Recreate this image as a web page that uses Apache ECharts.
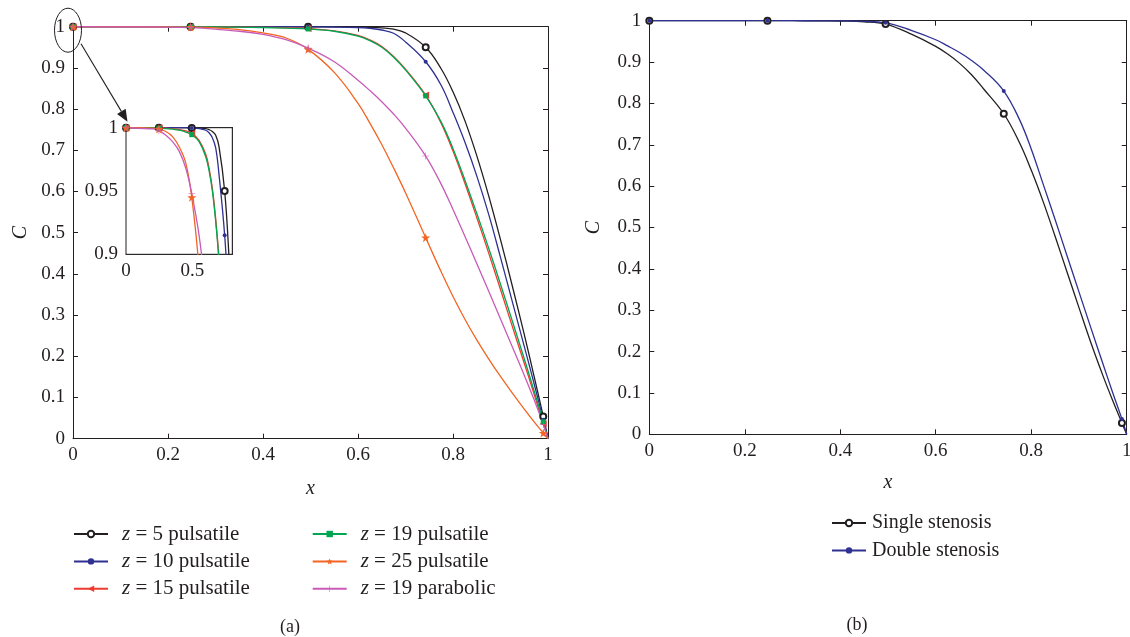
<!DOCTYPE html>
<html><head><meta charset="utf-8">
<script src="https://cdn.jsdelivr.net/npm/echarts/dist/echarts.min.js"></script>
<style>html,body{margin:0;padding:0;background:#fff}#c{width:1130px;height:637px}</style>
</head><body><div id="c"></div>
<script>
// ---- data ----
const xs      = [0, 0.1, 0.2, 0.2475, 0.3, 0.35, 0.4, 0.45, 0.495, 0.55, 0.6, 0.625, 0.65, 0.675, 0.7, 0.7425, 0.775, 0.8, 0.825, 0.85, 0.875, 0.9, 0.925, 0.95, 0.97, 0.99, 1];
const markIdx = [0, 3, 8, 15, 25];
// panel (a)
const z5      = [1, 1, 1, 1, 1, 1, 1, 1, 0.9998, 0.9997, 0.9993, 0.9985, 0.997, 0.994, 0.985, 0.950, 0.898, 0.842, 0.772, 0.687, 0.590, 0.483, 0.370, 0.253, 0.155, 0.054, 0];
const z10     = [1, 1, 1, 1, 1, 1, 1, 1, 0.9997, 0.9993, 0.998, 0.996, 0.992, 0.984, 0.963, 0.915, 0.858, 0.792, 0.720, 0.638, 0.545, 0.440, 0.332, 0.224, 0.137, 0.046, 0];
const z15     = [1, 1, 1, 1, 0.9996, 0.9992, 0.9985, 0.9975, 0.9955, 0.990, 0.979, 0.968, 0.952, 0.928, 0.897, 0.834, 0.766, 0.698, 0.620, 0.537, 0.451, 0.362, 0.272, 0.183, 0.111, 0.036, 0];
const z19p    = [1, 1, 1, 0.9996, 0.9993, 0.9988, 0.998, 0.9965, 0.9945, 0.989, 0.977, 0.966, 0.950, 0.926, 0.895, 0.832, 0.769, 0.704, 0.628, 0.547, 0.463, 0.375, 0.285, 0.194, 0.119, 0.041, 0];
const z25     = [1, 1, 0.9997, 0.999, 0.997, 0.993, 0.985, 0.972, 0.945, 0.889, 0.814, 0.766, 0.714, 0.657, 0.597, 0.488, 0.405, 0.345, 0.290, 0.240, 0.194, 0.151, 0.1105, 0.0718, 0.0422, 0.0138, 0];
const z19par  = [1, 0.9995, 0.999, 0.9977, 0.994, 0.989, 0.9815, 0.968, 0.948, 0.915, 0.870, 0.845, 0.818, 0.788, 0.754, 0.686, 0.618, 0.5565, 0.4915, 0.4253, 0.3583, 0.2908, 0.2228, 0.154, 0.097, 0.035, 0];
// panel (b)
const single  = [1, 1, 1, 1, 1, 0.9997, 0.999, 0.9975, 0.9918, 0.967, 0.938, 0.9193, 0.8968, 0.8693, 0.8355, 0.775, 0.706, 0.6388, 0.5625, 0.4788, 0.3925, 0.3063, 0.2213, 0.1425, 0.0835, 0.0275, 0];
const double_ = [1, 1, 1, 1, 1, 0.9998, 0.9995, 0.9985, 0.995, 0.976, 0.954, 0.939, 0.923, 0.904, 0.881, 0.830, 0.762, 0.690, 0.6048, 0.5193, 0.4318, 0.3443, 0.2573, 0.171, 0.103, 0.037, 0];
// tick settings
const mainXTicks  = {min: 0, max: 1, interval: 0.2};
const mainYTicks  = {min: 0, max: 1, interval: 0.1};
const insetXTicks = {min: 0, max: 0.8, interval: 0.5};
const insetYTicks = {min: 0.9, max: 1, interval: 0.05};
const namesA1 = ['z = 5 pulsatile', 'z = 10 pulsatile', 'z = 15 pulsatile'];
const namesA2 = ['z = 19 pulsatile', 'z = 25 pulsatile', 'z = 19 parabolic'];
const namesB  = ['Single stenosis', 'Double stenosis'];

// ---- styling ----
const INK = '#231f20';
const FONT = '"Liberation Serif", "DejaVu Serif", serif';
const STAR = 'path://M0,-10 L2.35,-3.24 9.51,-3.09 3.8,1.24 5.88,8.09 0,4 -5.88,8.09 -3.8,1.24 -9.51,-3.09 -2.35,-3.24Z';
const PLUS = 'path://M-0.8,-10h1.6v9.2h9.2v1.6h-9.2v9.2h-1.6v-9.2h-9.2v-1.6h9.2z';

const chart = echarts.init(document.getElementById('c'), null, {renderer: 'canvas'});

function xAxisDef(grid, ticks, pos, labels, name, gap) {
  return Object.assign({
    type: 'value', gridIndex: grid, position: pos,
    axisLine: {show: true, onZero: false, lineStyle: {color: INK, width: 1}},
    axisTick: {show: true, inside: true, length: 5, lineStyle: {color: INK}},
    axisLabel: {show: labels, color: INK, fontFamily: FONT, fontSize: 19, margin: 7, showMaxLabel: ticks.max !== 0.8},
    splitLine: {show: false},
    name: name || '', nameLocation: 'middle', nameGap: gap || 0,
    nameTextStyle: {color: INK, fontFamily: FONT, fontSize: 20, fontStyle: 'italic'}
  }, ticks);
}
function yAxisDef(grid, ticks, pos, labels, name, gap) {
  return Object.assign({
    type: 'value', gridIndex: grid, position: pos,
    axisLine: {show: true, onZero: false, lineStyle: {color: INK, width: 1}},
    axisTick: {show: true, inside: true, length: 5, lineStyle: {color: INK}},
    axisLabel: {show: labels, color: INK, fontFamily: FONT, fontSize: 19, margin: 8},
    splitLine: {show: false},
    name: name || '', nameLocation: 'middle', nameGap: gap || 0, nameRotate: 90,
    nameTextStyle: {color: INK, fontFamily: FONT, fontSize: 20, fontStyle: 'italic'}
  }, ticks);
}

function mk(name, ys, color, symbol, size, axisIdx, extra) {
  return Object.assign({
    name: name, type: 'line', xAxisIndex: axisIdx, yAxisIndex: axisIdx,
    data: xs.map((x, i) => [x, ys[i]]),
    smooth: 0.4, clip: true,
    symbol: symbol, showAllSymbol: true,
    symbolSize: (v, p) => markIdx.indexOf(p.dataIndex) >= 0 ? size : 0,
    lineStyle: {color: color, width: 1.3},
    itemStyle: {color: color, borderWidth: 1},
    emphasis: {disabled: true},
    animation: false
  }, extra || {});
}

const specA = [
  ['z = 5 pulsatile', z5, '#231f20', 'emptyCircle', 6, {}],
  ['z = 10 pulsatile', z10, '#2e3192', 'circle', 4, {}],
  ['z = 15 pulsatile', z15, '#ee3b2f', 'triangle', 7, {symbolRotate: 90}],
  ['z = 19 pulsatile', z19p, '#00a651', 'rect', 5, {}],
  ['z = 25 pulsatile', z25, '#f26522', STAR, 9, {}],
  ['z = 19 parabolic', z19par, '#c85ab8', PLUS, 7, {}]
];
const series = [];
specA.forEach(s => series.push(mk(s[0], s[1], s[2], s[3], s[4], 0, s[5])));
specA.forEach(s => series.push(mk(s[0], s[1], s[2], s[3], s[4], 4, s[5])));
series.push(mk('Single stenosis', single, '#231f20', 'emptyCircle', 6, 2));
series.push(mk('Double stenosis', double_, '#2e3192', 'circle', 4, 2));

const legendText = {
  color: INK, fontFamily: FONT, fontSize: 21, lineHeight: 22, padding: [0, 0, 0, 9],
  rich: {i: {fontStyle: 'italic', fontFamily: FONT, fontSize: 21, color: INK}}
};
const legendBase = {
  orient: 'vertical', itemWidth: 34, itemHeight: 8, itemGap: 5.4, padding: 0,
  selectedMode: false, textStyle: legendText,
  formatter: n => n.replace(/^z/, '{i|z}')
};

chart.setOption({
  animation: false,
  backgroundColor: '#fff',
  grid: [
    {left: 73, top: 26.7, width: 475, height: 412, outerBoundsMode: 'none', containLabel: false},
    {left: 649.3, top: 20.7, width: 477.4, height: 413.6, outerBoundsMode: 'none', containLabel: false},
    {left: 126, top: 127.7, width: 106.3, height: 126.6, outerBoundsMode: 'none', containLabel: false,
     show: true, backgroundColor: '#fff', borderColor: INK, borderWidth: 1, z: 3}
  ],
  xAxis: [
    xAxisDef(0, mainXTicks, 'bottom', true, 'x', 40),
    xAxisDef(0, mainXTicks, 'top', false),
    xAxisDef(1, mainXTicks, 'bottom', true, 'x', 38),
    xAxisDef(1, mainXTicks, 'top', false),
    xAxisDef(2, insetXTicks, 'bottom', true),
    xAxisDef(2, insetXTicks, 'top', false)
  ],
  yAxis: [
    yAxisDef(0, mainYTicks, 'left', true, 'C', 42),
    yAxisDef(0, mainYTicks, 'right', false),
    yAxisDef(1, mainYTicks, 'left', true, 'C', 46),
    yAxisDef(1, mainYTicks, 'right', false),
    yAxisDef(2, insetYTicks, 'left', true),
    yAxisDef(2, insetYTicks, 'right', false)
  ],
  legend: [
    Object.assign({}, legendBase, {data: namesA1, left: 73, top: 523}),
    Object.assign({}, legendBase, {data: namesA2, left: 311.7, top: 523}),
    Object.assign({}, legendBase, {data: namesB, left: 831, top: 512,
      textStyle: Object.assign({}, legendText, {fontSize: 20, padding: [0, 0, 0, 1]})})
  ],
  series: series
});

// annotations: ellipse around the (0,1) corner and arrow to the inset
const p0 = chart.convertToPixel({gridIndex: 0}, [0, 1]);
const pi = chart.convertToPixel({gridIndex: 2}, [0, 1]);
const ax0 = p0[0] + 8, ay0 = p0[1] + 17;
const ax1 = pi[0] + 1.5, ay1 = pi[1] - 6;
const ang = Math.atan2(ay1 - ay0, ax1 - ax0);
const hl = 12, hw = 5;
const bx = ax1 - hl * Math.cos(ang), by = ay1 - hl * Math.sin(ang);
const nx = -Math.sin(ang), ny = Math.cos(ang);
chart.setOption({
  graphic: [
    {type: 'ellipse', shape: {cx: p0[0] - 5, cy: p0[1] + 3.5, rx: 13.5, ry: 22},
     style: {fill: null, stroke: INK, lineWidth: 1}, z: 100},
    {type: 'line', shape: {x1: ax0, y1: ay0, x2: bx, y2: by},
     style: {stroke: INK, lineWidth: 1.1}, z: 100},
    {type: 'polygon', shape: {points: [[ax1, ay1], [bx + nx * hw, by + ny * hw], [bx - nx * hw, by - ny * hw]]},
     style: {fill: INK}, z: 100},
    {type: 'text', x: 290, y: 627, style: {text: '(a)', fill: INK, font: '18px ' + FONT, textAlign: 'center', textVerticalAlign: 'middle'}},
    {type: 'text', x: 857, y: 625, style: {text: '(b)', fill: INK, font: '18px ' + FONT, textAlign: 'center', textVerticalAlign: 'middle'}}
  ]
});
</script>
</body></html>
